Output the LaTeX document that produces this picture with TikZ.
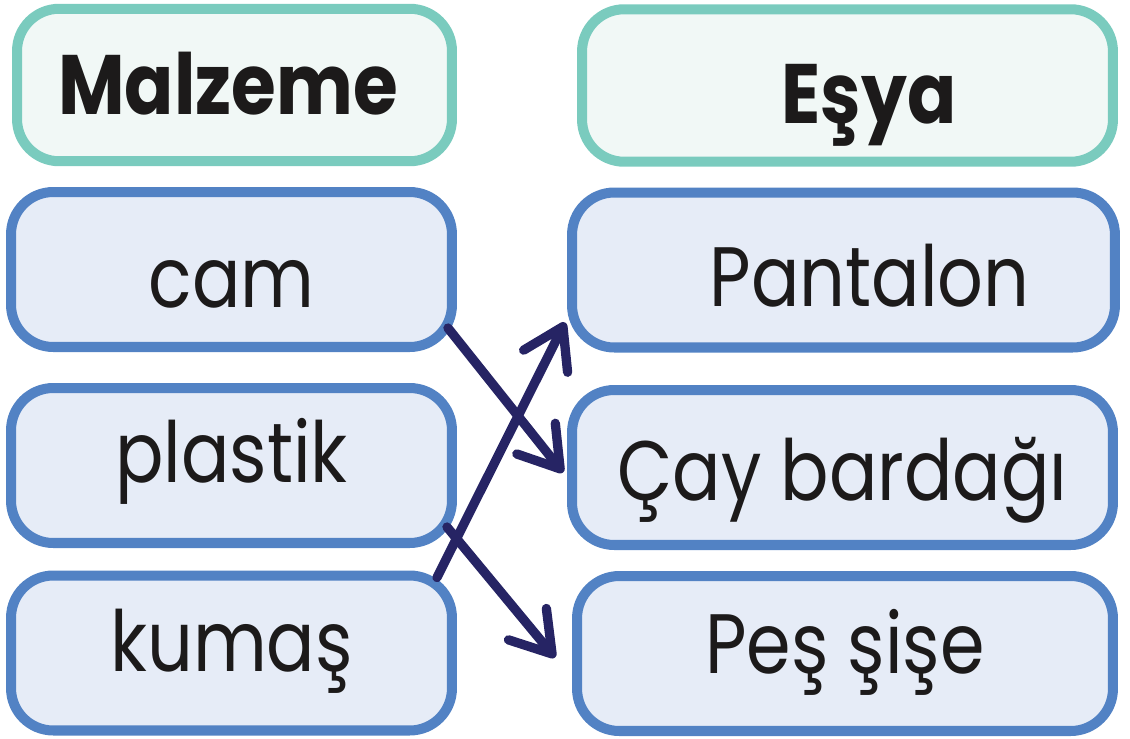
\documentclass[tikz,border=0pt]{standalone}
\usepackage{fontspec}
\setmainfont{Poppins}[FakeStretch=0.85]
\newfontfamily\headfont{Poppins}[FakeStretch=0.86]
\usetikzlibrary{arrows.meta, calc}

\definecolor{tealline}{HTML}{7ACBBE}
\definecolor{tealfill}{HTML}{F1F8F6}
\definecolor{blueline}{HTML}{5282C4}
\definecolor{bluefill}{HTML}{E6ECF7}
\definecolor{navy}{HTML}{262464}
\definecolor{ink}{HTML}{1C1A1A}

\tikzset{
    headbox/.style={draw=tealline, fill=tealfill, line width=5.7pt, rounded corners=24pt,
        minimum height=3.05cm, text=ink, text depth=0pt, font=\fontsize{48}{48}\headfont\bfseries},
    itembox/.style={draw=blueline, fill=bluefill, line width=5.7pt, rounded corners=24pt,
        minimum height=3.1cm, text=ink, text depth=0pt, font=\fontsize{48}{48}\selectfont},
    match/.style={draw=navy, line width=5.3pt, line cap=round,
        -{Straight Barb[length=22pt, width=28pt, line cap=round, line join=round]}}
}

\begin{document}
\begin{tikzpicture}[x=0.02cm, y=-0.02cm]
    \useasboundingbox (0,0) rectangle (1130,738);
    % Headers
    \node[headbox, minimum width=8.7cm, text height=34pt] (malzeme) at (234.5,85) {Malzeme\hspace*{0.26cm}};
    \node[headbox, minimum width=10.62cm, text height=42.7pt] (esya) at (847.5,85.5) {\hspace*{0.86cm}Eşya};

    % Materials
    \node[itembox, minimum width=8.82cm, text height=42.7pt] (cam) at (231.5,269.5) {cam};
    \node[itembox, minimum width=8.82cm, text height=18.8pt] (plastik) at (231.5,465.5) {plastik};
    \node[itembox, minimum width=8.82cm, text height=21.6pt] (kumas) at (231.5,653) {kumaş};

    % Objects
    \node[itembox, minimum width=10.86cm, text height=42.1pt] (pantalon) at (843.5,270) {\hspace*{1.04cm}Pantalon};
    \node[itembox, minimum width=10.82cm, text height=37pt] (cay) at (842.5,467.5) {Çay bardağı};
    \node[itembox, minimum width=10.72cm, text height=22.2pt] (pes) at (845,653.5) {Peş şişe};

    % Matching arrows
    \draw[match] ($(cam.south east)+(-9,-24)$) -- ($(cay.west)+(-4,5)$);
    \draw[match] ($(kumas.north east)+(-20,7)$) -- ($(pantalon.south west)+(-2,-30)$);
    \draw[match] ($(plastik.south east)+(-10,-21)$) -- ($(pes.west)+(-17,4)$);
\end{tikzpicture}
\end{document}
